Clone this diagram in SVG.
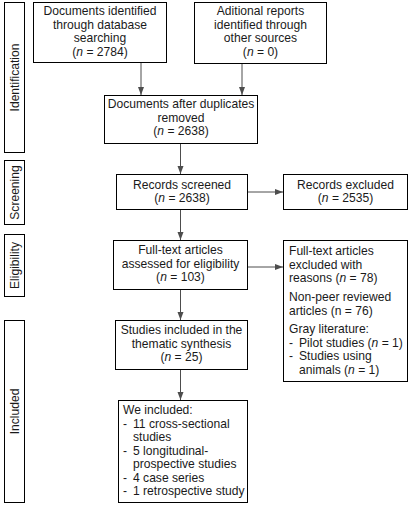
<svg xmlns="http://www.w3.org/2000/svg" width="411" height="507" viewBox="0 0 411 507">
<defs>
<marker id="ah" viewBox="0 0 8 8" refX="8" refY="4" markerWidth="8" markerHeight="8" markerUnits="userSpaceOnUse" orient="auto">
<path d="M0,1 L8,4 L0,7 Z" fill="#4d4d4d"/>
</marker>
</defs>
<style>
rect{fill:#fff;stroke:#000;stroke-width:1}
text{font-family:"Liberation Sans",Arial,sans-serif;font-size:12.1px;fill:#1a1a1a}
.c{text-anchor:middle}
.e line{stroke:#4d4d4d;stroke-width:1;marker-end:url(#ah)}
</style>
<rect x="0" y="0" width="411" height="507" style="stroke:none"/>
<g id="stage-identification"><rect x="4.5" y="2.5" width="20" height="150"/><text class="c" transform="translate(18.5,77.5) rotate(-90)">Identification</text></g>
<g id="stage-screening"><rect x="4.5" y="160.5" width="20" height="64"/><text class="c" transform="translate(18.5,192.5) rotate(-90)">Screening</text></g>
<g id="stage-eligibility"><rect x="4.5" y="234.5" width="20" height="62"/><text class="c" transform="translate(18.5,265.5) rotate(-90)">Eligibility</text></g>
<g id="stage-included"><rect x="4.5" y="320.5" width="20" height="182"/><text class="c" transform="translate(18.5,411.5) rotate(-90)">Included</text></g>

<g id="db-search"><rect x="33.5" y="2.5" width="133" height="60"/>
<text class="c" x="100" y="15">Documents identified</text>
<text class="c" x="100" y="28.5">through database</text>
<text class="c" x="100" y="42">searching</text>
<text class="c" x="100" y="55.5">(<tspan font-style="italic">n</tspan> = 2784)</text></g>

<g id="other-sources"><rect x="194.5" y="2.5" width="132" height="61"/>
<text class="c" x="260.5" y="15">Aditional reports</text>
<text class="c" x="260.5" y="28.5">identified through</text>
<text class="c" x="260.5" y="42">other sources</text>
<text class="c" x="260.5" y="55.5">(<tspan font-style="italic">n</tspan> = 0)</text></g>

<g id="after-duplicates"><rect x="104.5" y="95.5" width="153" height="48"/>
<text class="c" x="181" y="108">Documents after duplicates</text>
<text class="c" x="181" y="121.5">removed</text>
<text class="c" x="181" y="135">(<tspan font-style="italic">n</tspan> = 2638)</text></g>

<g id="screened"><rect x="116.5" y="174.5" width="131" height="35"/>
<text class="c" x="182" y="188.5">Records screened</text>
<text class="c" x="182" y="202">(<tspan font-style="italic">n</tspan> = 2638)</text></g>

<g id="excluded"><rect x="283.5" y="174.5" width="124" height="35"/>
<text class="c" x="345.5" y="188.5">Records excluded</text>
<text class="c" x="345.5" y="202">(<tspan font-style="italic">n</tspan> = 2535)</text></g>

<g id="fulltext"><rect x="113.5" y="240.5" width="134" height="49"/>
<text class="c" x="180.5" y="254">Full-text articles</text>
<text class="c" x="180.5" y="267.5">assessed for eligibility</text>
<text class="c" x="180.5" y="281">(<tspan font-style="italic">n</tspan> = 103)</text></g>

<g id="fulltext-excluded"><rect x="283.5" y="240.5" width="124" height="141"/>
<text x="289" y="255">Full-text articles</text>
<text x="289" y="268.5">excluded with</text>
<text x="289" y="282">reasons (<tspan font-style="italic">n</tspan> = 78)</text>
<text x="289" y="301">Non-peer reviewed</text>
<text x="289" y="314.5">articles (n = 76)</text>
<text x="289" y="333">Gray literature:</text>
<text x="289" y="346.5">-</text><text x="299" y="346.5">Pilot studies (<tspan font-style="italic">n</tspan> = 1)</text>
<text x="289" y="360">-</text><text x="299" y="360">Studies using</text>
<text x="299" y="373.5">animals (<tspan font-style="italic">n</tspan> = 1)</text></g>

<g id="thematic"><rect x="115.5" y="320.5" width="132" height="49"/>
<text class="c" x="181.5" y="334">Studies included in the</text>
<text class="c" x="181.5" y="347.5">thematic synthesis</text>
<text class="c" x="181.5" y="361">(<tspan font-style="italic">n</tspan> = 25)</text></g>

<g id="included-list"><rect x="118.5" y="400.5" width="129" height="102"/>
<text x="123" y="414">We included:</text>
<text x="123" y="427.5">-</text><text x="133" y="427.5">11 cross-sectional</text>
<text x="133" y="441">studies</text>
<text x="123" y="454.5">-</text><text x="133" y="454.5">5 longitudinal-</text>
<text x="133" y="468">prospective studies</text>
<text x="123" y="481.5">-</text><text x="133" y="481.5">4 case series</text>
<text x="123" y="495">-</text><text x="133" y="495">1 retrospective study</text></g>

<g id="connectors" class="e">
<line x1="141" y1="63" x2="141" y2="95"/>
<line x1="242" y1="64" x2="242" y2="95"/>
<line x1="180.5" y1="144" x2="180.5" y2="174"/>
<line x1="248" y1="192" x2="283" y2="192"/>
<line x1="180.5" y1="210" x2="180.5" y2="240"/>
<line x1="248" y1="267" x2="283" y2="267"/>
<line x1="180.5" y1="290" x2="180.5" y2="320"/>
<line x1="180.5" y1="370" x2="180.5" y2="400"/>
</g>
</svg>
